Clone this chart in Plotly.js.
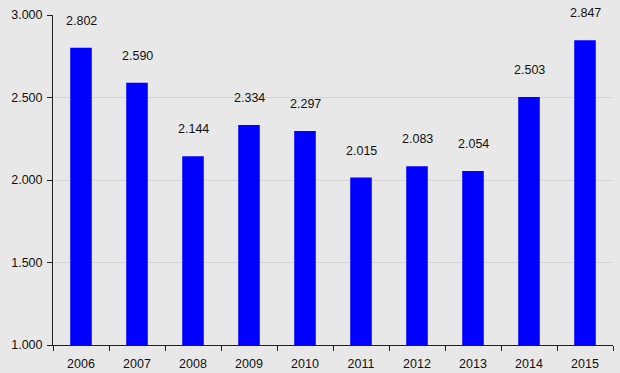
<!DOCTYPE html>
<html>
<head>
<meta charset="utf-8">
<script src="https://cdn.plot.ly/plotly-3.0.1.min.js"></script>
<style>html,body{margin:0;padding:0;background:#e8e8e8;}#chart{width:620px;height:373px;}</style>
</head>
<body>
<div id="chart"></div>
<script>
const years = ['2006','2007','2008','2009','2010','2011','2012','2013','2014','2015'];
const values = [2802, 2590, 2144, 2334, 2297, 2015, 2083, 2054, 2503, 2847];
const yTicks = [1000, 1500, 2000, 2500, 3000];

function fmt(v){ return String(v).replace(/\B(?=(\d{3})+(?!\d))/g, '.'); }

const trace = {
  type: 'bar',
  x: years,
  y: values,
  marker: {color: '#0000ff'},
  hoverinfo: 'none'
};

const annotations = years.map((yr, i) => ({
  x: i, y: values[i], xref: 'x', yref: 'y',
  text: fmt(values[i]), showarrow: false,
  yshift: 27, yanchor: 'middle',
  font: {family: 'Liberation Sans, Arial, sans-serif', size: 12.5, color: '#111'}
}));

const layout = {
  width: 620, height: 373,
  margin: {l: 53, r: 7, t: 15, b: 28},
  paper_bgcolor: '#e8e8e8',
  plot_bgcolor: '#e8e8e8',
  bargap: 0.615,
  showlegend: false,
  font: {family: 'Liberation Sans, Arial, sans-serif', size: 12, color: '#111'},
  xaxis: {
    type: 'category',
    range: [-0.5, years.length - 0.5],
    autorange: false,
    showline: true, linecolor: '#222', linewidth: 1,
    ticks: 'outside', tickson: 'boundaries', ticklen: 5, tickcolor: '#222',
    ticklabelstandoff: 7,
    showgrid: false, zeroline: false,
    tickangle: 0,
    tickfont: {size: 12.5, color: '#111'}
  },
  yaxis: {
    range: [1000, 3000],
    autorange: false,
    tickvals: yTicks,
    ticktext: yTicks.map(fmt),
    showline: true, linecolor: '#222', linewidth: 1,
    ticks: 'outside', ticklen: 5, tickcolor: '#222',
    ticklabelstandoff: 2,
    showgrid: true, gridcolor: '#d4d4d4', gridwidth: 1,
    zeroline: false,
    tickfont: {size: 12.5, color: '#111'}
  },
  annotations: annotations
};

Plotly.newPlot('chart', [trace], layout, {displayModeBar: false, staticPlot: true});
</script>
</body>
</html>
